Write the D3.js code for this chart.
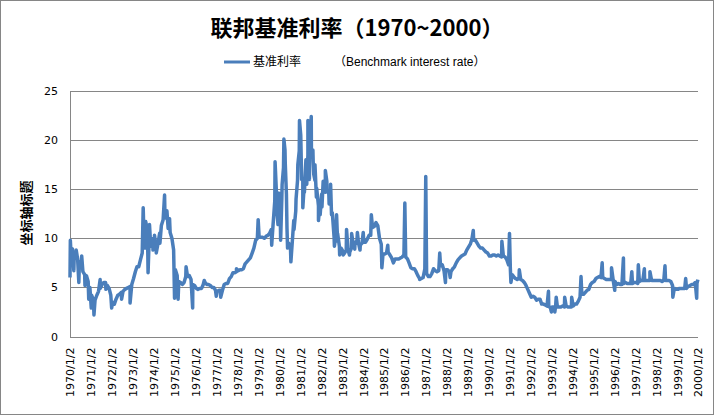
<!DOCTYPE html>
<html>
<head>
<meta charset="utf-8">
<script src="https://cdn.jsdelivr.net/npm/d3@7"></script>
<style>
  body { margin: 0; background: #fff; }
  #chart-area { width: 715px; height: 416px; }
  .axis text { font-family: "DejaVu Sans", sans-serif; font-size: 11px; fill: #000; }
  .axis path, .axis line { display: none; }
</style>
</head>
<body>
<div id="chart-area"></div>
<script>
// ---- data ----
const chartTitle = "联邦基准利率（1970~2000）";
const legendLabel = "基准利率";
const legendNote = "（Benchmark interest rate）";
const yAxisTitle = "坐标轴标题";

const yTicks = [0, 5, 10, 15, 20, 25];
const xTickLabels = [
  "1970/1/2", "1971/1/2", "1972/1/2", "1973/1/2", "1974/1/2", "1975/1/2", "1976/1/2", "1977/1/2",
  "1978/1/2", "1979/1/2", "1980/1/2", "1981/1/2", "1982/1/2", "1983/1/2", "1984/1/2", "1985/1/2",
  "1986/1/2", "1987/1/2", "1988/1/2", "1989/1/2", "1990/1/2", "1991/1/2", "1992/1/2", "1993/1/2",
  "1994/1/2", "1995/1/2", "1996/1/2", "1997/1/2", "1998/1/2", "1999/1/2", "2000/1/2"
];

// monthly level of the rate, Jan 1970 .. Dec 1999 (one row per year)
const firstYear = 1970;
const monthlyRate = [
  9.0, 8.9, 7.9, 8.1, 7.9, 7.6, 7.2, 6.6, 6.3, 6.2, 5.6, 5.0,
  4.2, 3.7, 3.7, 4.2, 4.6, 4.9, 5.3, 5.5, 5.5, 5.2, 4.9, 4.2,
  3.5, 3.3, 3.8, 4.2, 4.3, 4.5, 4.6, 4.8, 4.9, 5.0, 5.1, 5.3,
  5.9, 6.6, 7.1, 7.1, 7.8, 8.5, 10.4, 10.5, 10.8, 10.0, 10.0, 9.9,
  9.6, 9.0, 9.4, 10.5, 11.3, 11.9, 12.9, 12.0, 11.3, 10.6, 10.0, 8.8,
  6.8, 6.2, 5.6, 5.5, 5.3, 5.5, 6.1, 6.1, 6.2, 5.8, 5.3, 5.2,
  4.9, 4.8, 4.9, 4.9, 5.3, 5.5, 5.3, 5.3, 5.2, 5.0, 5.0, 4.7,
  4.6, 4.7, 4.7, 4.7, 5.3, 5.4, 5.4, 5.9, 6.1, 6.5, 6.5, 6.6,
  6.7, 6.8, 6.8, 6.9, 7.4, 7.6, 7.8, 8.0, 8.5, 9.0, 9.8, 10.0,
  10.1, 10.1, 10.1, 10.0, 10.2, 10.3, 10.5, 10.9, 11.4, 13.8, 13.2, 13.8,
  13.8, 14.1, 17.2, 17.6, 11.0, 9.5, 9.0, 9.6, 10.9, 12.8, 15.9, 18.9,
  19.1, 15.9, 14.7, 15.7, 18.5, 19.1, 19.0, 17.8, 15.9, 15.1, 13.3, 12.4,
  13.2, 14.8, 14.7, 14.9, 14.5, 14.2, 12.6, 10.1, 10.3, 9.7, 9.2, 9.0,
  8.7, 8.5, 8.8, 8.8, 8.6, 9.0, 9.4, 9.6, 9.5, 9.5, 9.3, 9.5,
  9.6, 9.6, 9.9, 10.3, 10.3, 11.1, 11.2, 11.6, 11.3, 10.0, 9.4, 8.4,
  8.4, 8.5, 8.6, 8.3, 8.0, 7.5, 7.9, 7.9, 7.9, 8.0, 8.1, 8.3,
  8.1, 7.9, 7.5, 7.0, 6.9, 6.9, 6.6, 6.2, 5.9, 5.9, 6.0, 6.9,
  6.4, 6.1, 6.1, 6.4, 6.9, 6.7, 6.6, 6.7, 7.2, 7.3, 6.7, 6.8,
  6.8, 6.6, 6.6, 6.9, 7.1, 7.5, 7.8, 8.0, 8.2, 8.3, 8.4, 8.8,
  9.1, 9.4, 9.9, 9.8, 9.8, 9.5, 9.2, 9.0, 9.0, 8.8, 8.6, 8.5,
  8.2, 8.2, 8.3, 8.3, 8.2, 8.3, 8.2, 8.1, 8.2, 8.1, 7.8, 7.3,
  6.9, 6.3, 6.1, 5.9, 5.8, 5.9, 5.8, 5.7, 5.5, 5.2, 4.8, 4.4,
  4.0, 4.1, 4.0, 3.7, 3.8, 3.8, 3.3, 3.3, 3.2, 3.1, 3.1, 2.9,
  3.0, 3.0, 3.1, 3.0, 3.0, 3.0, 3.1, 3.0, 3.1, 3.0, 3.0, 3.0,
  3.1, 3.3, 3.3, 3.6, 4.0, 4.3, 4.3, 4.5, 4.7, 4.8, 5.3, 5.5,
  5.6, 5.9, 6.0, 6.1, 6.0, 6.0, 5.9, 5.8, 5.8, 5.8, 5.8, 5.7,
  5.6, 5.3, 5.4, 5.3, 5.3, 5.4, 5.5, 5.4, 5.4, 5.4, 5.4, 5.5,
  5.5, 5.4, 5.6, 5.7, 5.7, 5.7, 5.7, 5.7, 5.7, 5.7, 5.7, 5.7,
  5.7, 5.7, 5.7, 5.6, 5.7, 5.7, 5.7, 5.7, 5.6, 5.2, 4.9, 4.8,
  4.8, 4.9, 4.9, 4.9, 4.9, 4.9, 5.1, 5.2, 5.3, 5.3, 5.5, 5.4
];

// single days that stick out of the band
const dailySpikes = [
  ["1970/1/2", 6.0], ["1970/1/8", 9.8], ["1970/3/10", 6.7], ["1970/4/20", 8.8], ["1970/6/5", 5.5],
  ["1970/7/25", 8.2], ["1970/9/20", 5.2], ["1970/11/25", 3.8],
  ["1971/1/8", 2.9], ["1971/2/24", 2.2], ["1971/6/12", 5.8], ["1971/9/20", 4.8], ["1971/12/30", 2.9],
  ["1972/6/20", 3.8], ["1972/11/15", 3.4],
  ["1973/7/2", 13.1], ["1973/8/1", 9.0], ["1973/8/15", 11.7], ["1973/9/25", 6.5], ["1973/10/20", 11.4],
  ["1973/11/10", 9.2], ["1973/12/20", 8.8],
  ["1974/1/15", 10.3], ["1974/2/15", 8.5], ["1974/4/20", 9.5], ["1974/7/10", 14.4], ["1974/8/20", 12.8],
  ["1974/9/10", 11.0], ["1974/10/5", 12.0], ["1974/12/31", 3.9],
  ["1975/3/3", 3.8], ["1975/7/20", 7.1], ["1975/11/12", 2.9],
  ["1976/6/1", 5.7], ["1976/12/28", 4.1],
  ["1977/3/15", 4.0], ["1977/12/15", 6.9],
  ["1978/12/29", 11.9],
  ["1979/8/22", 9.3], ["1979/10/20", 17.8], ["1979/11/10", 15.0], ["1979/12/10", 11.4], ["1979/12/28", 14.6],
  ["1980/1/25", 9.8], ["1980/2/20", 15.5], ["1980/3/22", 20.1], ["1980/4/10", 19.0], ["1980/5/5", 14.5],
  ["1980/5/25", 9.0], ["1980/7/22", 7.6], ["1980/9/10", 11.8], ["1980/10/20", 14.0], ["1980/11/20", 17.5],
  ["1980/12/19", 22.0],
  ["1981/1/10", 20.5], ["1981/1/25", 16.0], ["1981/2/15", 13.1], ["1981/3/10", 15.2], ["1981/4/10", 18.0],
  ["1981/4/25", 15.5], ["1981/5/15", 22.0], ["1981/6/10", 16.0], ["1981/6/25", 20.0], ["1981/7/12", 22.4],
  ["1981/8/10", 19.0], ["1981/8/25", 16.5], ["1981/9/15", 17.5], ["1981/10/10", 14.2], ["1981/11/15", 11.8],
  ["1981/12/10", 13.5],
  ["1982/1/10", 14.5], ["1982/2/5", 15.8], ["1982/3/15", 16.9], ["1982/4/10", 15.8], ["1982/5/20", 13.5],
  ["1982/6/15", 15.5], ["1982/7/1", 12.4], ["1982/8/20", 9.2], ["1982/9/27", 12.4], ["1982/10/15", 10.5],
  ["1982/11/20", 8.3],
  ["1983/1/20", 8.3], ["1983/3/20", 10.9], ["1983/5/10", 8.3], ["1983/6/17", 10.5], ["1983/8/10", 8.9],
  ["1983/9/25", 10.6], ["1983/11/10", 8.8], ["1984/1/5", 10.6],
  ["1984/5/25", 12.4], ["1984/11/25", 7.0],
  ["1985/3/8", 9.3], ["1985/12/31", 13.6],
  ["1986/9/15", 5.8], ["1986/12/31", 16.3],
  ["1987/9/1", 8.5], ["1987/12/10", 5.5],
  ["1988/3/1", 6.0],
  ["1989/4/8", 10.8],
  ["1990/8/20", 9.7], ["1990/12/31", 10.5],
  ["1991/1/25", 5.5], ["1991/6/20", 6.8],
  ["1992/11/10", 4.6], ["1992/12/31", 2.5], ["1993/3/1", 2.5], ["1993/3/25", 4.0], ["1993/8/20", 4.0],
  ["1993/12/20", 4.0],
  ["1994/6/1", 6.1],
  ["1995/6/5", 7.5], ["1995/11/15", 7.0], ["1996/1/10", 4.7],
  ["1996/6/10", 8.0], ["1996/11/3", 6.6],
  ["1997/2/25", 7.3], ["1997/6/10", 6.9], ["1997/9/15", 6.6],
  ["1998/6/5", 7.2], ["1998/10/20", 4.0],
  ["1999/6/1", 5.9], ["1999/12/10", 3.9], ["1999/12/31", 5.8]
];

/* * * * * * * * * * * * * *
 *     class RateChart      *
 * * * * * * * * * * * * * */

class RateChart {
  constructor(parentElement) {
    this.parentElement = parentElement;
    this.parseDate = d3.timeParse("%Y/%m/%d");
    this.displayData = [];
    this.initVis();
  }

  initVis() {
    let vis = this;

    vis.width = 715;
    vis.height = 416;
    vis.margin = { top: 91, right: 17, bottom: 79.5, left: 70 };

    vis.svg = d3
      .select("#" + vis.parentElement)
      .append("svg")
      .attr("width", vis.width)
      .attr("height", vis.height);

    // chart frame
    vis.svg
      .append("rect")
      .attr("x", 0.5)
      .attr("y", 0.5)
      .attr("width", vis.width - 2)
      .attr("height", vis.height - 2)
      .attr("fill", "#fff")
      .attr("stroke", "#868686");

    // title
    vis.svg
      .append("text")
      .attr("x", 357)
      .attr("y", 36)
      .attr("text-anchor", "middle")
      .attr("font-family", "'Noto Sans CJK SC', sans-serif")
      .attr("font-weight", "bold")
      .attr("font-size", 22)
      .attr("fill", "#000")
      .text(chartTitle);

    // legend
    let legend = vis.svg.append("g").attr("transform", "translate(224, 62)");
    legend.append("line").attr("x1", 0).attr("x2", 26).attr("stroke", "#4A7EBB").attr("stroke-width", 3);
    let lt = legend
      .append("text")
      .attr("x", 29)
      .attr("dy", "0.35em")
      .attr("font-size", 12)
      .attr("fill", "#000");
    lt.append("tspan").attr("font-family", "'Noto Sans CJK SC', sans-serif").text(legendLabel);
    lt.append("tspan")
      .attr("x", 110)
      .attr("font-family", "'Liberation Sans', 'Noto Sans CJK SC', sans-serif")
      .text(legendNote);

    // scales
    vis.x = d3
      .scaleTime()
      .domain([vis.parseDate(xTickLabels[0]), vis.parseDate(xTickLabels[xTickLabels.length - 1])])
      .range([vis.margin.left, vis.width - vis.margin.right]);
    vis.y = d3
      .scaleLinear()
      .domain([0, 25])
      .range([vis.height - vis.margin.bottom, vis.margin.top]);

    // gridlines
    vis.svg
      .append("g")
      .selectAll("line")
      .data(yTicks)
      .enter()
      .append("line")
      .attr("x1", vis.x.range()[0])
      .attr("x2", vis.x.range()[1])
      .attr("y1", (d) => Math.round(vis.y(d)) + 0.5)
      .attr("y2", (d) => Math.round(vis.y(d)) + 0.5)
      .attr("stroke", "#868686");

    // vertical axis line
    vis.svg
      .append("line")
      .attr("x1", vis.margin.left + 0.5)
      .attr("x2", vis.margin.left + 0.5)
      .attr("y1", Math.round(vis.y(25)) + 0.5)
      .attr("y2", Math.round(vis.y(0)) + 0.5)
      .attr("stroke", "#868686");

    // axes
    vis.yAxis = d3.axisLeft(vis.y).tickValues(yTicks).tickSize(0).tickPadding(12);
    vis.svg
      .append("g")
      .attr("class", "y-axis axis")
      .attr("transform", `translate(${vis.margin.left}, 0)`)
      .call(vis.yAxis);

    vis.xAxis = d3
      .axisBottom(vis.x)
      .tickValues(xTickLabels.map((s) => vis.parseDate(s)))
      .tickFormat((d, i) => xTickLabels[i])
      .tickSize(0);
    vis.svg
      .append("g")
      .attr("class", "x-axis axis")
      .attr("transform", `translate(0, ${vis.y(0)})`)
      .call(vis.xAxis)
      .selectAll("text")
      .attr("transform", "rotate(-90)")
      .attr("text-anchor", "end")
      .attr("x", -11)
      .attr("y", 0)
      .attr("dy", "0.36em");

    // y axis title
    vis.svg
      .append("text")
      .attr("transform", "translate(26, 213) rotate(-90)")
      .attr("text-anchor", "middle")
      .attr("dy", "0.35em")
      .attr("font-family", "'Noto Sans CJK SC', sans-serif")
      .attr("font-weight", "bold")
      .attr("font-size", 13)
      .attr("fill", "#000")
      .text(yAxisTitle);

    vis.line = d3
      .line()
      .x((d) => vis.x(d.date))
      .y((d) => vis.y(d.rate));

    vis.wrangleData();
  }

  wrangleData() {
    let vis = this;

    vis.displayData = monthlyRate.map((v, i) => ({ date: new Date(firstYear, i, 15), rate: v }));
    dailySpikes.forEach((s) => vis.displayData.push({ date: vis.parseDate(s[0]), rate: s[1] }));
    vis.displayData.sort((a, b) => a.date - b.date);

    vis.updateVis();
  }

  updateVis() {
    let vis = this;

    vis.svg
      .append("path")
      .datum(vis.displayData)
      .attr("class", "rate-line")
      .attr("fill", "none")
      .attr("stroke", "#4A7EBB")
      .attr("stroke-width", 3.5)
      .attr("stroke-linejoin", "round")
      .attr("d", vis.line);
  }
}

new RateChart("chart-area");
</script>
</body>
</html>
